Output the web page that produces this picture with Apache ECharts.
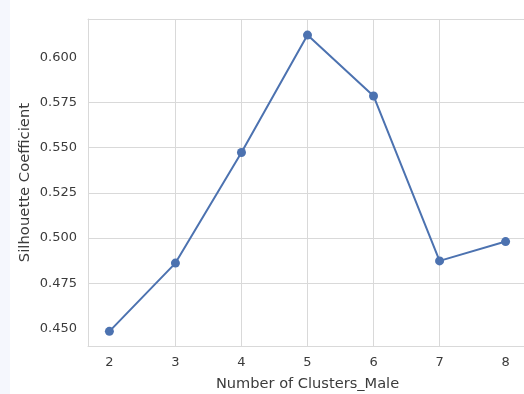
<!DOCTYPE html>
<html>
<head>
<meta charset="utf-8">
<script src="https://cdn.jsdelivr.net/npm/echarts@6/dist/echarts.min.js"></script>
<style>
  html, body { margin: 0; padding: 0; background: #ffffff; }
  #chart { width: 524px; height: 394px; }
</style>
</head>
<body>
<div id="chart"></div>
<script>
// Silhouette coefficient for each candidate number of clusters (male subset)
const clusterCounts = [2, 3, 4, 5, 6, 7, 8];
const silhouetteScores = [0.4483, 0.4861, 0.5473, 0.6123, 0.5786, 0.4873, 0.4980];
const yTicks = [0.450, 0.475, 0.500, 0.525, 0.550, 0.575, 0.600];

const FONT = 'DejaVu Sans';
const TEXT = '#3b3b3b';
const GRID = '#d9d9d9';
const X_MIN = 1.676, X_MAX = 8.324;

const chart = echarts.init(document.getElementById('chart'), null, { renderer: 'canvas' });

// spine-like frame: bottom/top from the x axes, left from the y axis
const frameLine = { show: true, lineStyle: { color: GRID, width: 1 } };

chart.setOption({
  backgroundColor: '#ffffff',
  animation: false,
  graphic: [{
    type: 'rect',
    left: 0, top: 0,
    shape: { width: 10, height: 394 },
    style: { fill: '#f5f7fd' },
    silent: true
  }],
  grid: {
    left: 88, top: 19, width: 439, height: 327,
    outerBoundsMode: 'none',
    containLabel: false,
    show: false
  },
  xAxis: [{
    type: 'value',
    min: X_MIN, max: X_MAX,
    name: 'Number of Clusters_Male',
    nameLocation: 'middle',
    nameGap: 31,
    nameTextStyle: { fontFamily: FONT, fontSize: 14.6, color: TEXT },
    axisLine: frameLine,
    axisTick: { show: false, customValues: clusterCounts },
    axisLabel: {
      customValues: clusterCounts,
      margin: 10,
      fontFamily: FONT, fontSize: 13, color: TEXT,
      formatter: v => String(v)
    },
    splitLine: {
      show: true, showMinLine: false, showMaxLine: false,
      lineStyle: { color: GRID, width: 1 }
    }
  }, {
    type: 'value',
    position: 'top',
    min: X_MIN, max: X_MAX,
    axisLine: frameLine,
    axisTick: { show: false },
    axisLabel: { show: false },
    splitLine: { show: false }
  }],
  yAxis: {
    type: 'value',
    min: 0.4402, max: 0.6212,
    name: 'Silhouette Coefficient',
    nameLocation: 'middle',
    nameMoveOverlap: false,
    nameGap: 55,
    nameTextStyle: { fontFamily: FONT, fontSize: 14.8, color: TEXT },
    axisLine: frameLine,
    axisTick: { show: false, customValues: yTicks },
    axisLabel: {
      customValues: yTicks,
      margin: 11,
      fontFamily: FONT, fontSize: 13, color: TEXT,
      formatter: v => v.toFixed(3)
    },
    splitLine: {
      show: true, showMinLine: false, showMaxLine: false,
      lineStyle: { color: GRID, width: 1 }
    }
  },
  series: [{
    type: 'line',
    xAxisIndex: 0,
    data: clusterCounts.map((k, i) => [k, silhouetteScores[i]]),
    symbol: 'circle',
    symbolSize: 9,
    showSymbol: true,
    lineStyle: { color: '#4c72b0', width: 2 },
    itemStyle: { color: '#4c72b0' },
    clip: false
  }]
});
</script>
</body>
</html>
